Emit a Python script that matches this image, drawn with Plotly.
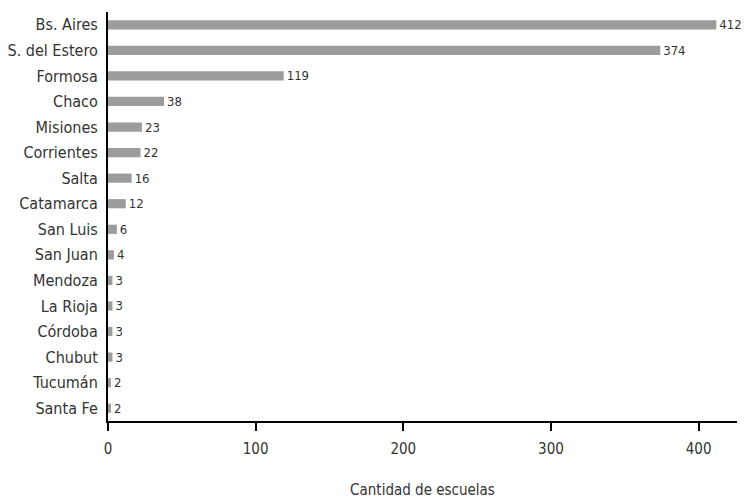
import plotly.graph_objects as go

provincias = ["Bs. Aires", "S. del Estero", "Formosa", "Chaco", "Misiones", "Corrientes",
              "Salta", "Catamarca", "San Luis", "San Juan", "Mendoza", "La Rioja",
              "Córdoba", "Chubut", "Tucumán", "Santa Fe"]
escuelas = [412, 374, 119, 38, 23, 22, 16, 12, 6, 4, 3, 3, 3, 3, 2, 2]
x_ticks = [0, 100, 200, 300, 400]

FONT = "DejaVu Sans Condensed"

fig = go.Figure(go.Bar(
    x=escuelas, y=provincias, orientation="h",
    marker=dict(color="#9c9c9c", line=dict(width=0)),
    width=0.36,
    text=[str(v) for v in escuelas], textposition="outside",
    textfont=dict(family=FONT, size=13, color="#333333"),
    constraintext="none",
    cliponaxis=False,
))

# page body has an 8px margin, so the figure is sized/offset to compensate
fig.update_layout(
    width=747, height=491,
    margin=dict(l=100, r=18, t=4, b=78),
    plot_bgcolor="white", paper_bgcolor="white",
    font=dict(family=FONT, color="#333333"),
    showlegend=False,
)
fig.update_xaxes(
    range=[0, 426], tickvals=x_ticks, showgrid=False, zeroline=False,
    showline=True, linecolor="black", linewidth=2,
    ticks="outside", ticklen=8, tickwidth=2, tickcolor="black",
    ticklabelstandoff=5,
    tickfont=dict(family=FONT, size=15, color="#333333"),
    title=dict(text="Cantidad de escuelas", font=dict(family=FONT, size=15, color="#333333"), standoff=27),
    automargin=False,
)
fig.update_yaxes(
    categoryorder="array", categoryarray=provincias[::-1],
    showgrid=False, zeroline=False,
    showline=True, linecolor="black", linewidth=2,
    ticks="outside", ticklen=5, tickcolor="rgba(0,0,0,0)",
    tickfont=dict(family=FONT, size=16, color="#333333"),
    automargin=False,
)

fig.write_html("out.html")
